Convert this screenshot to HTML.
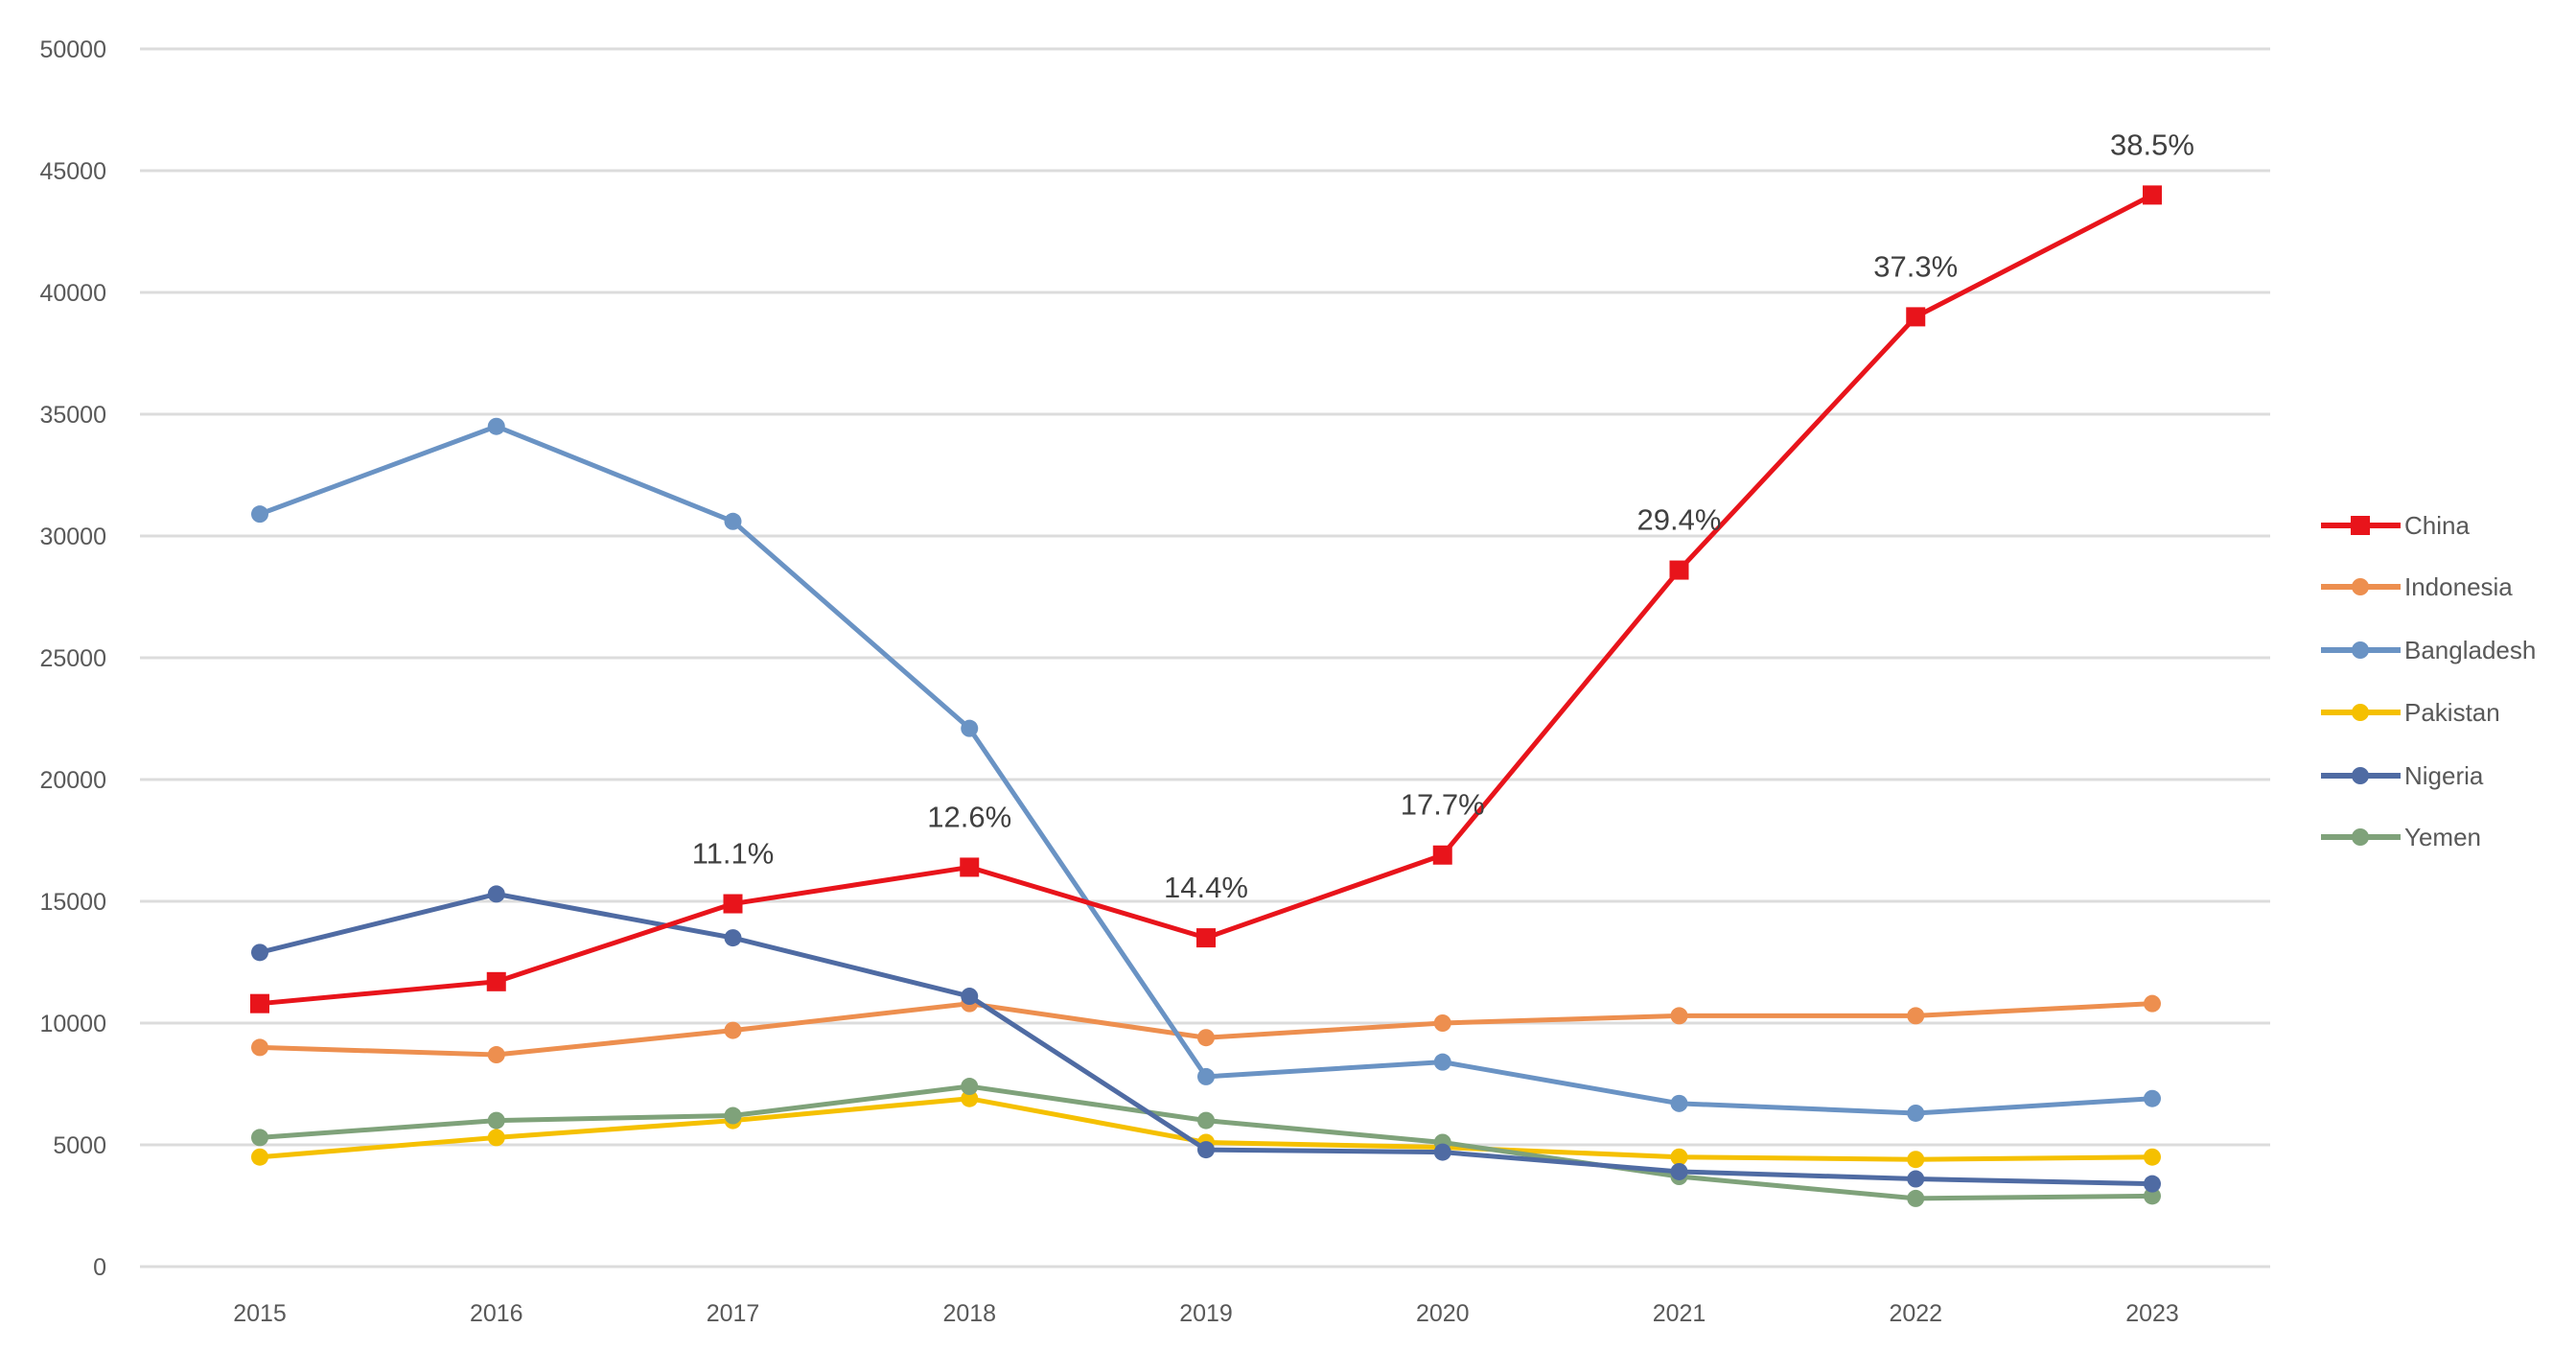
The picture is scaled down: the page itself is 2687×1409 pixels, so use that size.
<!DOCTYPE html>
<html><head><meta charset="utf-8"><style>
body{margin:0;background:#fff;}
svg{display:block;font-family:"Liberation Sans",sans-serif;}
</style></head><body>
<svg id="chart" width="2687" height="1409"></svg>
<script>
const years=["2015","2016","2017","2018","2019","2020","2021","2022","2023"];
const china=[10800,11700,14900,16400,13500,16900,28600,39000,44000];
const indonesia=[9000,8700,9700,10800,9400,10000,10300,10300,10800];
const bangladesh=[30900,34500,30600,22100,7800,8400,6700,6300,6900];
const pakistan=[4500,5300,6000,6900,5100,4900,4500,4400,4500];
const nigeria=[12900,15300,13500,11100,4800,4700,3900,3600,3400];
const yemen=[5300,6000,6200,7400,6000,5100,3700,2800,2900];
const chinaLabels=["","","11.1%","12.6%","14.4%","17.7%","29.4%","37.3%","38.5%"];
const yTicks=[0,5000,10000,15000,20000,25000,30000,35000,40000,45000,50000];
const seriesNames=["China","Indonesia","Bangladesh","Pakistan","Nigeria","Yemen"];

const svg=document.getElementById('chart');
const NS='http://www.w3.org/2000/svg';
const x=i=>271+i*(2245-271)/8;
const y=v=>1321-v*(1321-51)/50000;
function mk(t,a,parent){const e=document.createElementNS(NS,t);for(const k in a)e.setAttribute(k,a[k]);(parent||svg).appendChild(e);return e;}

yTicks.forEach(t=>{
  const g=mk('line',{x1:146,x2:2368,y1:y(t),y2:y(t),stroke:'#dcdcdc','stroke-width':3});
  
  
  const l=mk('text',{x:111,y:y(t)+9,'text-anchor':'end','font-size':25,fill:'#595959'});
  l.textContent=t;
  
  
});
years.forEach((yr,i)=>{
  const l=mk('text',{x:x(i),y:1378,'text-anchor':'middle','font-size':25,fill:'#595959'});
  l.textContent=yr;
  
  
});

const data=[china,indonesia,bangladesh,pakistan,nigeria,yemen];
const colors=['#e8141b','#ed8f4f','#6a93c4','#f5c000','#4f6ba3','#7fa27a'];
const order=[1,3,5,4,2,0];
order.forEach(s=>{
  const vals=data[s];
  const p=mk('polyline',{points:vals.map((v,i)=>x(i)+','+y(v)).join(' '),fill:'none',stroke:colors[s],'stroke-width':5,'stroke-linejoin':'round'});
  
  
  vals.forEach((v,i)=>{
    let m;
    if(s===0) m=mk('rect',{x:x(i)-10,y:y(v)-10,width:20,height:20,fill:colors[s]});
    else m=mk('circle',{cx:x(i),cy:y(v),r:9,fill:colors[s]});
    
    
  });
});
chinaLabels.forEach((t,i)=>{
  if(!t)return;
  const l=mk('text',{x:x(i),y:y(china[i])-42,'text-anchor':'middle','font-size':31,fill:'#404040'});
  l.textContent=t;
  
  
});

const legY=[548,612,678,743,809,873];
seriesNames.forEach((n,s)=>{
  const g=mk('g',{});
  
  
  mk('line',{x1:2421,x2:2504,y1:legY[s],y2:legY[s],stroke:colors[s],'stroke-width':6},g);
  if(s===0) mk('rect',{x:2452,y:legY[s]-10,width:20,height:20,fill:colors[s]},g);
  else mk('circle',{cx:2462,cy:legY[s],r:9,fill:colors[s]},g);
  const t=mk('text',{x:2508,y:legY[s]+9,'font-size':26,fill:'#595959'},g);
  t.textContent=n;
});
</script>
</body></html>
